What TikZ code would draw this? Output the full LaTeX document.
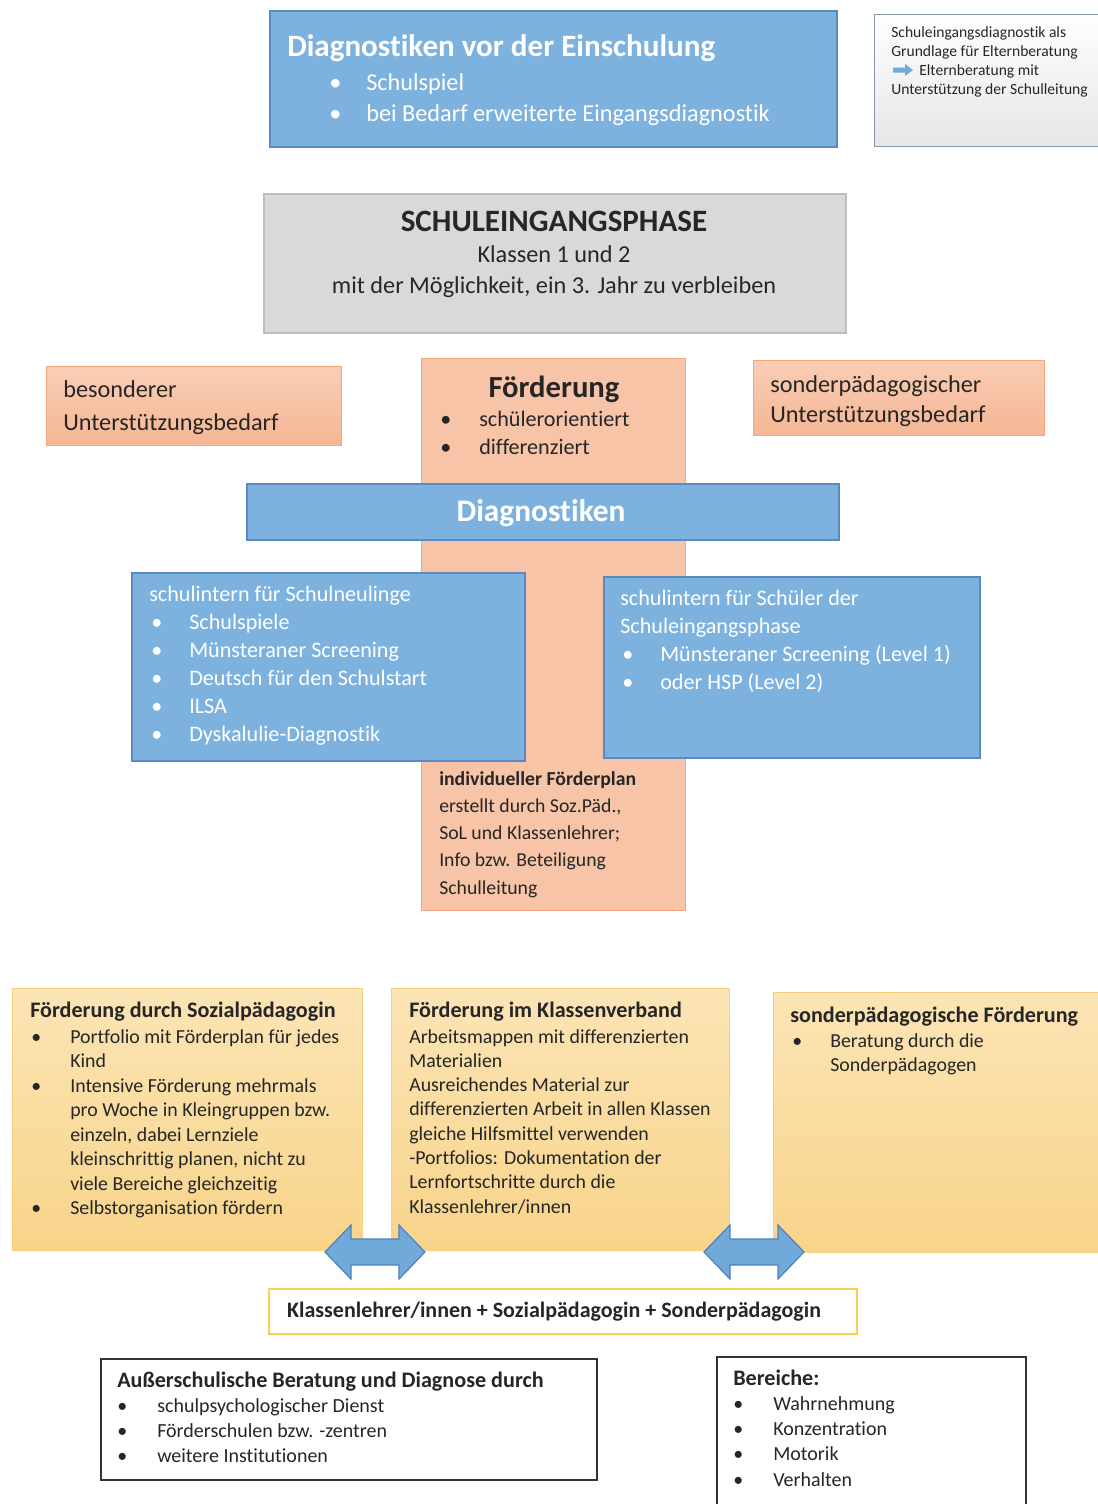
\documentclass[tikz,border=0pt]{standalone}
\usepackage{fontspec}
\setmainfont{Carlito}[Ligatures={NoCommon}]
\definecolor{bluefill}{HTML}{7DB2DF}
\definecolor{blueline}{HTML}{5A8AC6}
\definecolor{arrowfill}{HTML}{71A9DB}
\definecolor{arrowline}{HTML}{4F81BD}
\definecolor{grayfill}{HTML}{D9D9D9}
\definecolor{grayline}{HTML}{BDBDBD}
\definecolor{salmontop}{HTML}{F9CDB5}
\definecolor{salmonbot}{HTML}{F5B694}
\definecolor{salmonline}{HTML}{F4A67E}
\definecolor{yeltop}{HTML}{FBE4B5}
\definecolor{yelbot}{HTML}{F8D48A}
\definecolor{yelline}{HTML}{F6D07C}
\definecolor{goldline}{HTML}{F7D14E}
\definecolor{notegray}{HTML}{E6E6E6}
\definecolor{noteline}{HTML}{8797B0}
\definecolor{darktext}{HTML}{262626}
\newcommand\tline[4]{\node[txt,#1] (#2) at (#3) {#4};}
\newcommand\fsz[1]{\fontsize{#1}{#1}\selectfont}
\begin{document}
\begin{tikzpicture}[x=0.75pt,y=-0.75pt,
  txt/.style={anchor=base west,inner sep=0pt,text=darktext},
  wtxt/.style={anchor=base west,inner sep=0pt,text=white},
  ctxt/.style={anchor=base,inner sep=0pt,text=darktext},
  bluebox/.style={draw=blueline,fill=bluefill,line width=1.5pt},
  graybox/.style={draw=grayline,fill=grayfill,line width=1.2pt},
  salmonbox/.style={draw=salmonline,top color=salmontop,bottom color=salmonbot,line width=1pt},
  salmonflat/.style={draw=salmonline,fill=salmontop!60!salmonbot,line width=1pt},
  yelbox/.style={draw=yelline,top color=yeltop,bottom color=yelbot,line width=1pt},
  notebox/.style={draw=noteline,top color=white,bottom color=notegray,line width=1pt},
  goldbox/.style={draw=goldline,fill=white,line width=1.5pt},
  blackbox/.style={draw=black!80,fill=white,line width=1.2pt},
  dblarrow/.style={draw=arrowline,fill=arrowfill,line width=0.9pt,line join=miter},
  box/.style={rectangle,inner sep=0pt,anchor=north west}
]
\useasboundingbox (0,0) rectangle (1097,1504);
\fill[white] (0,0) rectangle (1097,1504);

% ---- top blue box
\node[box,bluebox,minimum width=567*0.75pt,minimum height=136*0.75pt] (top) at (269,10) {};
\tline{wtxt,font=\fsz{23.3}\bfseries}{topT}{287,56}{Diagnostiken vor der Einschulung}
\begin{scope}[every node/.append style={font=\fsz{18.2}}]
\tline{wtxt}{topb1}{329,90}{•}
\tline{wtxt}{topt1}{366,90}{Schulspiel}
\tline{wtxt}{topb2}{329,121}{•}
\tline{wtxt}{topt2}{366,121}{bei Bedarf erweiterte Eingangsdiagnostik}
\end{scope}

% ---- note box
\node[box,notebox,minimum width=230*0.75pt,minimum height=132*0.75pt] (note) at (874,14) {};
\begin{scope}[every node/.append style={font=\fsz{11.7}}]
\tline{}{n1}{891,37}{Schuleingangsdiagnostik als}
\tline{}{n2}{891,56}{Grundlage für Elternberatung}
\tline{}{n3}{919,75}{Elternberatung mit}
\tline{}{n4}{891,94}{Unterstützung der Schulleitung}
\end{scope}
\coordinate (na) at (903,70);
\fill[arrowfill,shift={(na)}] (-10,-2.5) -- (2,-2.5) -- (2,-6) -- (10,0) -- (2,6) -- (2,2.5) -- (-10,2.5) -- cycle;

% ---- Schuleingangsphase
\node[box,graybox,minimum width=582*0.75pt,minimum height=139*0.75pt] (sep) at (263,193) {};
\tline{ctxt,font=\fsz{23.3}\bfseries}{sepT}{554,231}{SCHULEINGANGSPHASE}
\tline{ctxt,font=\fsz{18.2}}{sep1}{554,262}{Klassen 1 und 2}
\tline{ctxt,font=\fsz{18.2}}{sep2}{554,293}{mit der Möglichkeit, ein 3. Jahr zu verbleiben}

% ---- salmon boxes
\node[box,salmonflat,minimum width=264*0.75pt,minimum height=552*0.75pt] (foe) at (421,358) {};
\node[box,salmonbox,minimum width=295*0.75pt,minimum height=79*0.75pt] (bes) at (46,366) {};
\node[box,salmonbox,minimum width=291*0.75pt,minimum height=75*0.75pt] (son) at (753,360) {};
\begin{scope}[every node/.append style={font=\fsz{18.2}}]
\tline{}{bes1}{63,397}{besonderer}
\tline{}{bes2}{63,430}{Unterstützungsbedarf}
\tline{}{son1}{770,392}{sonderpädagogischer}
\tline{}{son2}{770,422}{Unterstützungsbedarf}
\end{scope}
\tline{ctxt,font=\fsz{23}\bfseries}{foeT}{554,397}{Förderung}
\begin{scope}[every node/.append style={font=\fsz{16.6}}]
\tline{}{foeb1}{440,426}{•}
\tline{}{foet1}{479,426}{schülerorientiert}
\tline{}{foeb2}{440,454}{•}
\tline{}{foet2}{479,454}{differenziert}
\end{scope}

% ---- Diagnostiken bar
\node[box,bluebox,minimum width=592*0.75pt,minimum height=56*0.75pt] (diag) at (246,483) {};
\tline{anchor=base,inner sep=0pt,text=white,font=\fsz{23.5}\bfseries}{diagT}{541,521}{Diagnostiken}

% ---- blue side boxes
\node[box,bluebox,minimum width=393*0.75pt,minimum height=188*0.75pt] (dl) at (131,572) {};
\node[box,bluebox,minimum width=376*0.75pt,minimum height=181*0.75pt] (dr) at (603,576) {};
\begin{scope}[every node/.append style={font=\fsz{16.6}}]
\tline{wtxt}{dl0}{149,601}{schulintern für Schulneulinge}
\tline{wtxt}{dlb1}{151,629}{•}\tline{wtxt}{dlt1}{189,629}{Schulspiele}
\tline{wtxt}{dlb2}{151,657}{•}\tline{wtxt}{dlt2}{189,657}{Münsteraner Screening}
\tline{wtxt}{dlb3}{151,685}{•}\tline{wtxt}{dlt3}{189,685}{Deutsch für den Schulstart}
\tline{wtxt}{dlb4}{151,713}{•}\tline{wtxt}{dlt4}{189,713}{ILSA}
\tline{wtxt}{dlb5}{151,741}{•}\tline{wtxt}{dlt5}{189,741}{Dyskalulie-Diagnostik}
\tline{wtxt}{dr0}{620,605}{schulintern für Schüler der}
\tline{wtxt}{dr1}{620,633}{Schuleingangsphase}
\tline{wtxt}{drb1}{622,661}{•}\tline{wtxt}{drt1}{660,661}{Münsteraner Screening (Level 1)}
\tline{wtxt}{drb2}{622,689}{•}\tline{wtxt}{drt2}{660,689}{oder HSP (Level 2)}
\end{scope}

% ---- Förderplan
\begin{scope}[every node/.append style={font=\fsz{14.8}}]
\tline{font=\fsz{14.8}\bfseries}{fp0}{439,785}{individueller Förderplan}
\tline{}{fp1}{439,812}{erstellt durch Soz.Päd.,}
\tline{}{fp2}{439,839}{SoL und Klassenlehrer;}
\tline{}{fp3}{439,866}{Info bzw. Beteiligung}
\tline{}{fp4}{439,894}{Schulleitung}
\end{scope}

% ---- yellow boxes
\node[box,yelbox,minimum width=350*0.75pt,minimum height=262*0.75pt] (ysoz) at (12,988) {};
\node[box,yelbox,minimum width=338*0.75pt,minimum height=262*0.75pt] (ykl) at (391,988) {};
\node[box,yelbox,minimum width=330*0.75pt,minimum height=260*0.75pt] (yson) at (773,992) {};
\begin{scope}[every node/.append style={font=\fsz{14.9}}]
\tline{font=\fsz{16.6}\bfseries}{ys0}{30,1017}{Förderung durch Sozialpädagogin}
\tline{}{ysb1}{31,1043}{•}\tline{}{yst1}{70,1043}{Portfolio mit Förderplan für jedes}
\tline{}{yst2}{70,1067}{Kind}
\tline{}{ysb2}{31,1092}{•}\tline{}{yst3}{70,1092}{Intensive Förderung mehrmals}
\tline{}{yst4}{70,1116}{pro Woche in Kleingruppen bzw.}
\tline{}{yst5}{70,1141}{einzeln, dabei Lernziele}
\tline{}{yst6}{70,1165}{kleinschrittig planen, nicht zu}
\tline{}{yst7}{70,1190}{viele Bereiche gleichzeitig}
\tline{}{ysb3}{31,1214}{•}\tline{}{yst8}{70,1214}{Selbstorganisation fördern}

\tline{font=\fsz{16.6}\bfseries}{yk0}{409,1017}{Förderung im Klassenverband}
\tline{}{yk1}{409,1043}{Arbeitsmappen mit differenzierten}
\tline{}{yk2}{409,1067}{Materialien}
\tline{}{yk3}{409,1091}{Ausreichendes Material zur}
\tline{}{yk4}{409,1115}{differenzierten Arbeit in allen Klassen}
\tline{}{yk5}{409,1140}{gleiche Hilfsmittel verwenden}
\tline{}{yk6}{409,1164}{-Portfolios: Dokumentation der}
\tline{}{yk7}{409,1188}{Lernfortschritte durch die}
\tline{}{yk8}{409,1213}{Klassenlehrer/innen}

\tline{font=\fsz{16.6}\bfseries}{yn0}{790,1022}{sonderpädagogische Förderung}
\tline{}{ynb1}{792,1047}{•}\tline{}{yn1}{830,1047}{Beratung durch die}
\tline{}{yn2}{830,1071}{Sonderpädagogen}
\end{scope}

% ---- double arrows
\coordinate (arrL) at (375,1252);
\coordinate (arrR) at (754,1252);
\foreach \c in {arrL,arrR}{
  \draw[dblarrow,shift={(\c)}] (-50,0) -- (-24,-27) -- (-24,-13) -- (24,-13) -- (24,-27) -- (50,0)
     -- (24,27) -- (24,13) -- (-24,13) -- (-24,27) -- cycle;
}

% ---- team box
\node[box,goldbox,minimum width=588*0.75pt,minimum height=45*0.75pt] (team) at (268,1288) {};
\tline{ctxt,font=\fsz{16.5}\bfseries}{teamT}{554,1317}{Klassenlehrer/innen + Sozialpädagogin + Sonderpädagogin}

% ---- bottom boxes
\node[box,blackbox,minimum width=496*0.75pt,minimum height=121*0.75pt] (aus) at (100,1358) {};
\node[box,blackbox,minimum width=309*0.75pt,minimum height=160*0.75pt] (ber) at (716,1356) {};
\begin{scope}[every node/.append style={font=\fsz{15}}]
\tline{font=\fsz{16.6}\bfseries}{aus0}{117,1387}{Außerschulische Beratung und Diagnose durch}
\tline{}{ausb1}{117,1412}{•}\tline{}{aus1}{157,1412}{schulpsychologischer Dienst}
\tline{}{ausb2}{117,1437}{•}\tline{}{aus2}{157,1437}{Förderschulen bzw. -zentren}
\tline{}{ausb3}{117,1462}{•}\tline{}{aus3}{157,1462}{weitere Institutionen}
\tline{font=\fsz{16.6}\bfseries}{ber0}{733,1385}{Bereiche:}
\tline{}{berb1}{733,1410}{•}\tline{}{ber1}{773,1410}{Wahrnehmung}
\tline{}{berb2}{733,1435}{•}\tline{}{ber2}{773,1435}{Konzentration}
\tline{}{berb3}{733,1460}{•}\tline{}{ber3}{773,1460}{Motorik}
\tline{}{berb4}{733,1486}{•}\tline{}{ber4}{773,1486}{Verhalten}
\end{scope}
\end{tikzpicture}
\end{document}
